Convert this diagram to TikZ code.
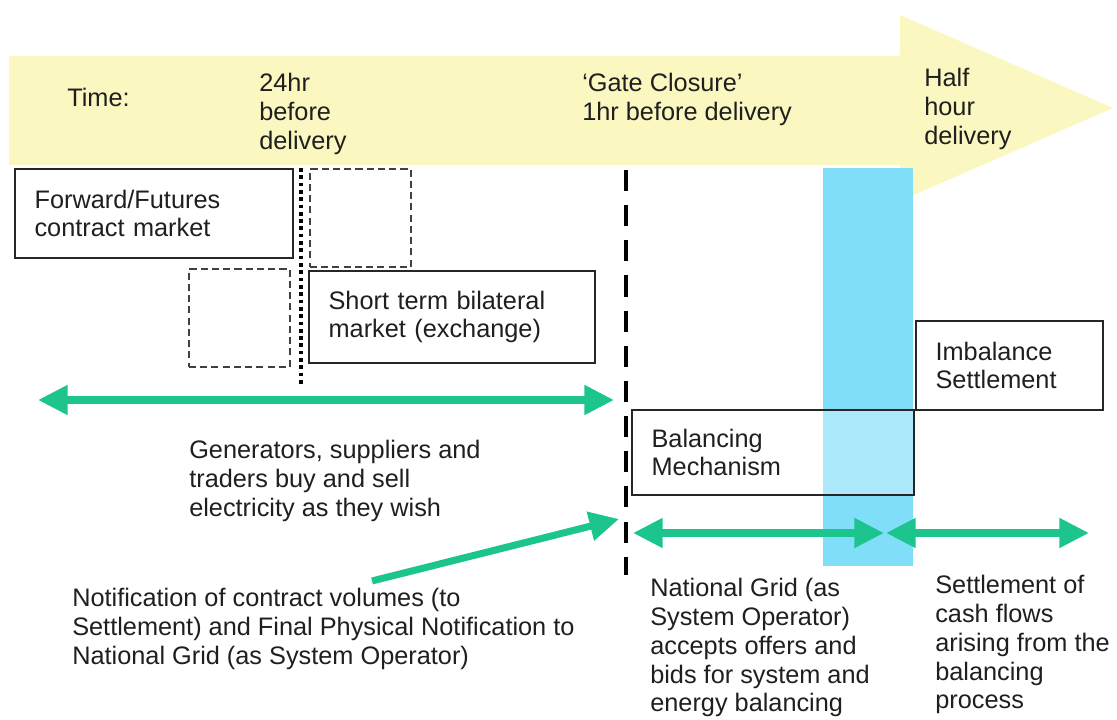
\documentclass[tikz,border=0pt]{standalone}
\usepackage{fontspec}
\setmainfont{Liberation Sans}
\usetikzlibrary{arrows.meta}
\definecolor{band}{RGB}{250,247,192}
\definecolor{flow}{RGB}{28,196,142}
\definecolor{slot}{RGB}{128,222,248}

\begin{document}
\begin{tikzpicture}[x=0.025cm, y=-0.025cm,
	txt/.style={anchor=north west, inner sep=0pt, align=left, text=black!88, font=\fontsize{18}{20.5}\selectfont},
	mkt/.style={draw=black!85, line width=1.4pt, anchor=north west, align=left, inner xsep=0.49cm, inner ysep=0pt, text=black!88, font=\fontsize{18}{20.5}\selectfont},
	ghost/.style={draw=black!75, line width=1.3pt, dash pattern=on 5pt off 3pt, anchor=north west, inner sep=0pt, minimum width=2.525cm, minimum height=2.45cm},
	flowline/.style={draw=flow, line width=5pt, >={Triangle[length=21pt,width=20pt]}}]
	\useasboundingbox (0, 0) rectangle (1117, 720);
	\fill[band] (9, 56) -- (900, 56) -- (900, 15) -- (1113, 108) -- (900, 201) -- (900, 165) -- (9, 165) -- cycle;
	\fill[slot] (823, 168) rectangle (913, 566);
	\draw[line width=2.2pt, dash pattern=on 2.6pt off 2.6pt] (301, 168) -- (301, 386);
	\draw[line width=3.4pt, dash pattern=on 15pt off 10pt] (626, 170) -- (626, 575);
	\node (fwd) [mkt, text width=5.97cm, minimum height=2.225cm] at (14, 168) {Forward/Futures\\contract market};
	\node (spotA) [ghost] at (309, 168) {};
	\node (spotB) [ghost] at (188, 268) {};
	\node (short) [mkt, text width=6.17cm, minimum height=2.3cm] at (308, 270) {Short term bilateral\\market (exchange)};
	\node (imb) [mkt, text width=3.695cm, minimum height=2.225cm] at (915, 320) {Imbalance\\Settlement};
	\node (bal) [mkt, text width=6.07cm, minimum height=2.125cm, fill=white, fill opacity=0.35, text opacity=1] at (631, 409) {Balancing\\Mechanism};
	\coordinate (tradeL) at (38, 400);
	\coordinate (tradeR) at (614, 400);
	\coordinate (notifyS) at (372, 581);
	\coordinate (notifyE) at (619, 519);
	\coordinate (bmL) at (633, 533);
	\coordinate (bmR) at (884, 533);
	\coordinate (isL) at (886, 533);
	\coordinate (isR) at (1089, 533);
	\draw[flowline, <->] (tradeL) -- (tradeR);
	\draw[flowline, ->] (notifyS) -- (notifyE);
	\draw[flowline, <->] (bmL) -- (bmR);
	\draw[flowline, <->] (isL) -- (isR);
	\node (time) [txt] at (67, 88) {Time:};
	\node (day) [txt] at (259, 73) {24hr\\before\\delivery};
	\node (gate) [txt] at (582, 73) {‘Gate Closure’\\1hr before delivery};
	\node (half) [txt] at (924, 68) {Half\\hour\\delivery};
	\node (trade) [txt] at (189, 440) {Generators, suppliers and\\traders buy and sell\\electricity as they wish};
	\node (notify) [txt] at (72, 588) {Notification of contract volumes (to\\Settlement) and Final Physical Notification to\\National Grid (as System Operator)};
	\node (so) [txt] at (650, 578) {National Grid (as\\System Operator)\\accepts offers and\\bids for system and\\energy balancing};
	\node (cash) [txt] at (935, 575) {Settlement of\\cash flows\\arising from the\\balancing\\process};
\end{tikzpicture}
\end{document}
